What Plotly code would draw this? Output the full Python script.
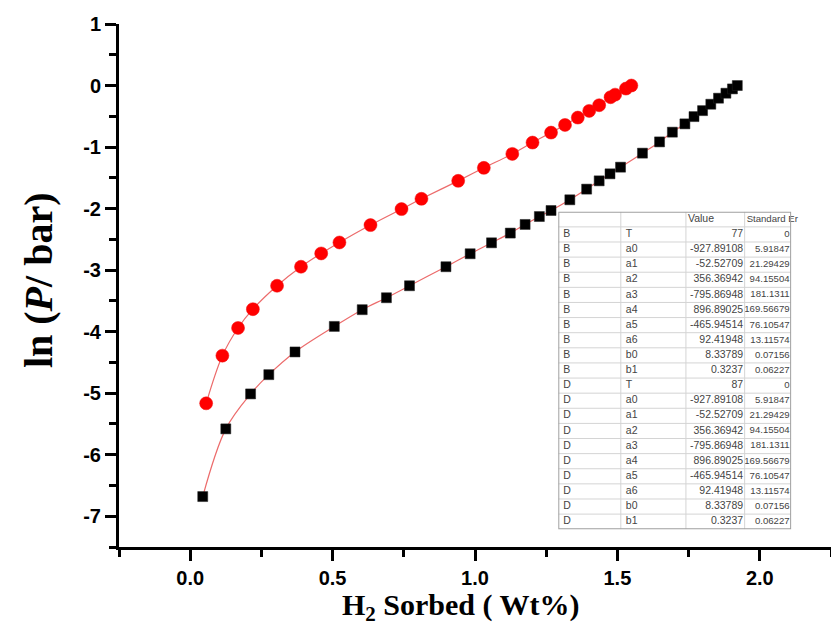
import plotly.graph_objects as go

# Isotherm data: H2 sorbed (wt%) vs ln(P / bar)
x_77 = [0.044, 0.125, 0.212, 0.276, 0.368, 0.506, 0.604, 0.689, 0.770, 0.898,
        0.983, 1.058, 1.124, 1.176, 1.226, 1.267, 1.333, 1.392, 1.436, 1.474,
        1.511, 1.588, 1.648, 1.693, 1.737, 1.769, 1.799, 1.828, 1.855, 1.881,
        1.904, 1.921]
y_77 = [-6.68, -5.58, -5.012, -4.699, -4.330, -3.915, -3.643, -3.449, -3.254, -2.945,
        -2.734, -2.556, -2.398, -2.258, -2.129, -2.031, -1.857, -1.684, -1.549, -1.435,
        -1.327, -1.099, -0.916, -0.758, -0.623, -0.505, -0.408, -0.304, -0.206, -0.125,
        -0.055, 0.0]

x_87 = [0.056, 0.113, 0.168, 0.220, 0.305, 0.389, 0.460, 0.524, 0.633, 0.742,
        0.812, 0.941, 1.031, 1.131, 1.202, 1.267, 1.316, 1.361, 1.401, 1.436,
        1.476, 1.492, 1.530, 1.549]
y_87 = [-5.165, -4.39, -3.94, -3.635, -3.254, -2.945, -2.729, -2.551, -2.268, -2.008,
        -1.841, -1.549, -1.338, -1.111, -0.927, -0.765, -0.640, -0.521, -0.412, -0.320,
        -0.190, -0.148, -0.050, 0.0]

# Axis ticks
x_tickvals = [0.0, 0.5, 1.0, 1.5, 2.0]
x_ticktext = ["0.0", "0.5", "1.0", "1.5", "2.0"]
y_tickvals = [1, 0, -1, -2, -3, -4, -5, -6, -7]
y_ticktext = ["1", "0", "-1", "-2", "-3", "-4", "-5", "-6", "-7"]

# Fit parameter table
tbl_set = ["B"] * 10 + ["D"] * 10
tbl_param = ["T", "a0", "a1", "a2", "a3", "a4", "a5", "a6", "b0", "b1"] * 2
tbl_value = ["77", "-927.89108", "-52.52709", "356.36942", "-795.86948",
             "896.89025", "-465.94514", "92.41948", "8.33789", "0.3237",
             "87", "-927.89108", "-52.52709", "356.36942", "-795.86948",
             "896.89025", "-465.94514", "92.41948", "8.33789", "0.3237"]
tbl_error = ["0", "5.91847", "21.29429", "94.15504", "181.1311",
             "169.56679", "76.10547", "13.11574", "0.07156", "0.06227"] * 2
tbl_header = ["", "", "Value", "Standard Er"]

fit_color = "#ec6b6b"

fig = go.Figure()

fig.add_trace(go.Scatter(
    x=x_77, y=y_77, mode="lines+markers",
    line=dict(color=fit_color, width=1.2, shape="spline", smoothing=1.0),
    marker=dict(symbol="square", size=10, color="black",
                line=dict(color="#222", width=0.5)),
    showlegend=False, hoverinfo="skip",
))
fig.add_trace(go.Scatter(
    x=x_87, y=y_87, mode="lines+markers",
    line=dict(color=fit_color, width=1.2, shape="spline", smoothing=1.0),
    marker=dict(symbol="circle", size=13, color="#ff0000",
                line=dict(color="#f01010", width=0.5)),
    showlegend=False, hoverinfo="skip",
))

# ---- parameter table, drawn on its own hidden axes (x in px-like units, y in rows)
col_edges = [0, 62.4, 127.4, 186, 232.4]
col_font_sizes = [10.5, 10.5, 10.5, 9.6]
n_rows = len(tbl_set) + 1
tcolor = "#444"
tfamily = "Liberation Sans, Arial"

rows = [i + 1.5 for i in range(len(tbl_set))]
columns = [tbl_set, tbl_param, tbl_value, tbl_error]
for ci, col in enumerate(columns):
    if ci < 2:
        xs = [col_edges[ci] + 5] * len(col)
        pos = "middle right"
    else:
        xs = [col_edges[ci + 1] - 1.5] * len(col)
        pos = "middle left"
    fig.add_trace(go.Scatter(
        x=xs, y=rows, text=col, mode="text", textposition=pos,
        textfont=dict(family=tfamily, size=col_font_sizes[ci], color=tcolor),
        xaxis="x2", yaxis="y2",
        showlegend=False, hoverinfo="skip", cliponaxis=False,
    ))
fig.add_trace(go.Scatter(
    x=[e + 2 for e in col_edges[:4]], y=[0.5] * 4, text=tbl_header,
    mode="text", textposition="middle right",
    textfont=dict(family=tfamily, size=col_font_sizes, color=tcolor),
    xaxis="x2", yaxis="y2", showlegend=False, hoverinfo="skip", cliponaxis=False,
))

shapes = []
for r in range(1, n_rows):
    shapes.append(dict(type="line", xref="x2", yref="y2", x0=0, x1=col_edges[-1],
                       y0=r, y1=r, line=dict(color="#d4d4d4", width=1)))
for e in col_edges[1:-1]:
    shapes.append(dict(type="line", xref="x2", yref="y2", x0=e, x1=e,
                       y0=0, y1=n_rows, line=dict(color="#d4d4d4", width=1)))
shapes.append(dict(type="rect", xref="x2", yref="y2", x0=0, x1=col_edges[-1],
                   y0=0, y1=n_rows, line=dict(color="#a0a0a0", width=2)))

tick_font = dict(family="Liberation Sans, Arial", size=20, color="black")

fig.update_layout(
    width=831, height=626,
    margin=dict(l=119, r=0, t=24, b=79),
    paper_bgcolor="white", plot_bgcolor="white",
    xaxis=dict(
        range=[-0.25, 2.25], tickvals=x_tickvals,
        ticktext=["<b>%s</b>" % t for t in x_ticktext],
        showline=True, linewidth=3, linecolor="black",
        ticks="outside", ticklen=11, tickwidth=2.5, tickcolor="black",
        minor=dict(ticks="outside", dtick=0.25, tick0=0, ticklen=7, tickwidth=2.5,
                   tickcolor="black"),
        showgrid=False, zeroline=False, tickfont=tick_font,
    ),
    yaxis=dict(
        range=[-7.5, 1], tickvals=y_tickvals,
        ticktext=["<b>%s</b>" % t for t in y_ticktext],
        showline=True, linewidth=3, linecolor="black",
        ticks="outside", ticklen=11, tickwidth=2.5, tickcolor="black",
        minor=dict(ticks="outside", dtick=0.5, tick0=0, ticklen=7, tickwidth=2.5,
                   tickcolor="black"),
        showgrid=False, zeroline=False, tickfont=tick_font,
    ),
    xaxis2=dict(domain=[0.617, 0.944], range=[0, col_edges[-1]], anchor="y2",
                visible=False, fixedrange=True),
    yaxis2=dict(domain=[0.034, 0.641], range=[n_rows, 0], anchor="x2",
                visible=False, fixedrange=True),
    shapes=shapes,
    annotations=[
        dict(text="<b>H<sub>2</sub> Sorbed ( Wt%)</b>", xref="paper", yref="paper",
             x=0.479, y=-0.1155, xanchor="center", yanchor="middle", showarrow=False,
             font=dict(family="Liberation Serif, Times New Roman", size=30, color="black")),
        dict(text="<b>ln (<i>P</i>/ bar)</b>", xref="paper", yref="paper",
             x=-0.114, y=0.51, xanchor="center", yanchor="middle", showarrow=False,
             textangle=-90,
             font=dict(family="Liberation Serif, Times New Roman", size=40, color="black")),
    ],
)

fig.write_html("out.html")
